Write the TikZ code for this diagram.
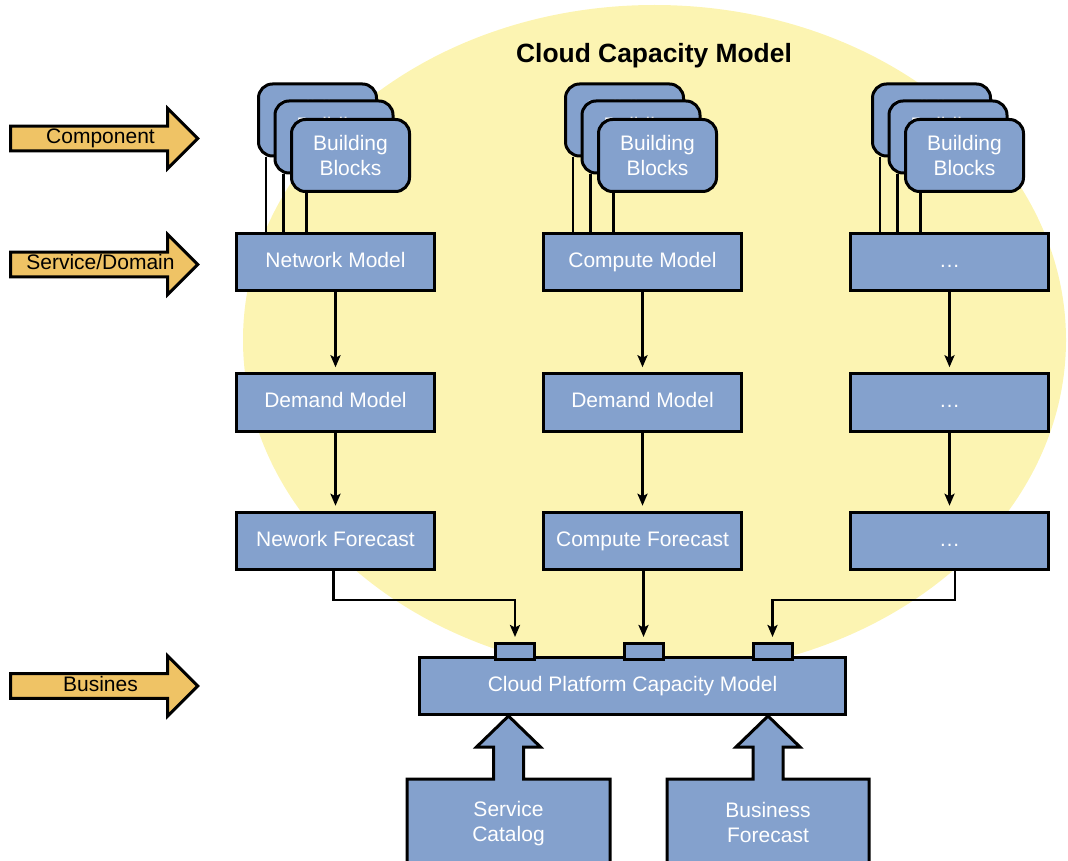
\documentclass[tikz,border=0pt]{standalone}
\usepackage{fontspec}
\setmainfont{Liberation Sans}
\usetikzlibrary{shapes.arrows,calc,arrows.meta}
\definecolor{boxblue}{HTML}{84A1CD}
\definecolor{cloudyellow}{HTML}{FCF4B2}
\definecolor{tagorange}{HTML}{EFC365}
\tikzset{
  box/.style={draw=black, line width=3pt, fill=boxblue, text=white,
    font=\fontsize{21}{25}\selectfont, minimum width=198.5pt, minimum height=57.5pt,
    inner sep=0pt, text height=15pt, text depth=4.5pt},
  blk/.style={draw=black, line width=3pt, fill=boxblue, rounded corners=14pt,
    minimum width=118pt, minimum height=72pt, text=white, align=center,
    inner sep=0pt, font=\fontsize{21}{24.5}\selectfont},
  port/.style={draw=black, line width=3pt, fill=boxblue, minimum width=39pt,
    minimum height=16pt, inner sep=0pt},
  tag/.style={single arrow, draw=black, line width=3pt, fill=tagorange,
    single arrow head extend=16pt, single arrow tip angle=90,
    minimum width=60pt, minimum height=187pt, inner sep=0pt,
    font=\fontsize{21}{25}\selectfont, text height=15pt, text depth=4.5pt},
  srcbox/.style={fill=none, draw=none, outer sep=0pt, inner sep=0pt, text=white,
    align=center, font=\fontsize{21}{24.5}\selectfont},
  blkarrow/.style={draw=black, fill=boxblue, line width=3pt, line join=miter},
  plain/.style={draw=black, line width=2.6pt},
  conn/.style={draw=black, line width=2.4pt, -{Stealth[length=12pt,width=10pt,inset=2.5pt]}, shorten >=5pt},
}
\begin{document}
\begin{tikzpicture}[x=1pt,y=-1pt]
\useasboundingbox (0,0) rectangle (1068,861);
% cloud background
\fill[cloudyellow] (654.5,340) ellipse [x radius=411.5, y radius=335];
\node[anchor=base, font=\bfseries\fontsize{26.4}{30}\selectfont] (title) at (654,63) {Cloud Capacity Model};

% left level tags
\node[tag] (comp) at (98,138.5) {\hspace*{5pt}Component};
\node[tag] (svc) at (98,264.5) {\hspace*{5pt}Service/Domain};
\node[tag] (bus) at (98,686) {\hspace*{5pt}Busines};

% building blocks
\foreach \k/\cx in {1/335.5, 2/642.5, 3/949.5} {
  \node[blk] (bb\k-a) at (\cx-18,120) {Building\\Blocks};
  \node[blk] (bb\k-b) at (\cx-1.5,137) {Building\\Blocks};
  \node[blk] (bb\k-c) at (\cx+15,155.5) {Building\\Blocks};
}

% model rows
\node[box] (n1) at (335.5,262) {Network Model};
\node[box] (n2) at (642.5,262) {Compute Model};
\node[box] (n3) at (949.5,262) {\dots};
\node[box] (d1) at (335.5,402.5) {Demand Model};
\node[box] (d2) at (642.5,402.5) {Demand Model};
\node[box] (d3) at (949.5,402.5) {\dots};
\node[box] (f1) at (335.5,541) {Nework Forecast};
\node[box] (f2) at (642.5,541) {Compute Forecast};
\node[box] (f3) at (949.5,541) {\dots};

% building block links
\foreach \k in {1,2,3} {
  \draw[plain] let \p1=([xshift=9pt]bb\k-a.south west), \p2=(n\k.north) in (\p1) -- (\x1,\y2);
  \draw[plain] let \p1=([xshift=10pt]bb\k-b.south west), \p2=(n\k.north) in (\p1) -- (\x1,\y2);
  \draw[plain] let \p1=([xshift=16.5pt]bb\k-c.south west), \p2=(n\k.north) in (\p1) -- (\x1,\y2);
  \draw[conn] (n\k) -- (d\k);
  \draw[conn] (d\k) -- (f\k);
}

% cloud platform capacity model
\node[box, minimum width=426pt, minimum height=57pt] (cp) at (632.5,686) {Cloud Platform Capacity Model};
\node[port] (p1) at (515,651.5) {};
\node[port] (p2) at (643.5,651.5) {};
\node[port] (p3) at (772.5,651.5) {};

\draw[conn] ([xshift=-2pt]f1.south) -- ++(0,29) -| (p1.north);
\draw[conn] (p2.north |- f2.south) -- (p2.north);
\draw[conn] ([xshift=5.5pt]f3.south) -- ++(0,29) -| (p3.north);

% sources with their block arrows into the capacity model
\path (508.5,823.5) coordinate (scc) (768,823.5) coordinate (bfc);
\node[srcbox, minimum width=203pt, minimum height=89pt] (sc) at (scc) {};
\node[srcbox, minimum width=202pt, minimum height=89pt] (bf) at (bfc) {};
\foreach \s in {sc,bf} {
  \draw[blkarrow] (\s.south west) -- (\s.north west) -- ($(\s.north)+(-15,0)$)
    -- ($(\s.north)+(-15,-32)$) -- ($(\s.north)+(-32,-32)$) -- (\s.north |- cp.south)
    -- ($(\s.north)+(32,-32)$) -- ($(\s.north)+(15,-32)$) -- ($(\s.north)+(15,0)$)
    -- (\s.north east) -- (\s.south east);
}
\node[srcbox] (sctext) at (sc.center) {Service\\Catalog};
\node[srcbox] (bftext) at ([yshift=1pt]bf.center) {Business\\Forecast};
\end{tikzpicture}
\end{document}
